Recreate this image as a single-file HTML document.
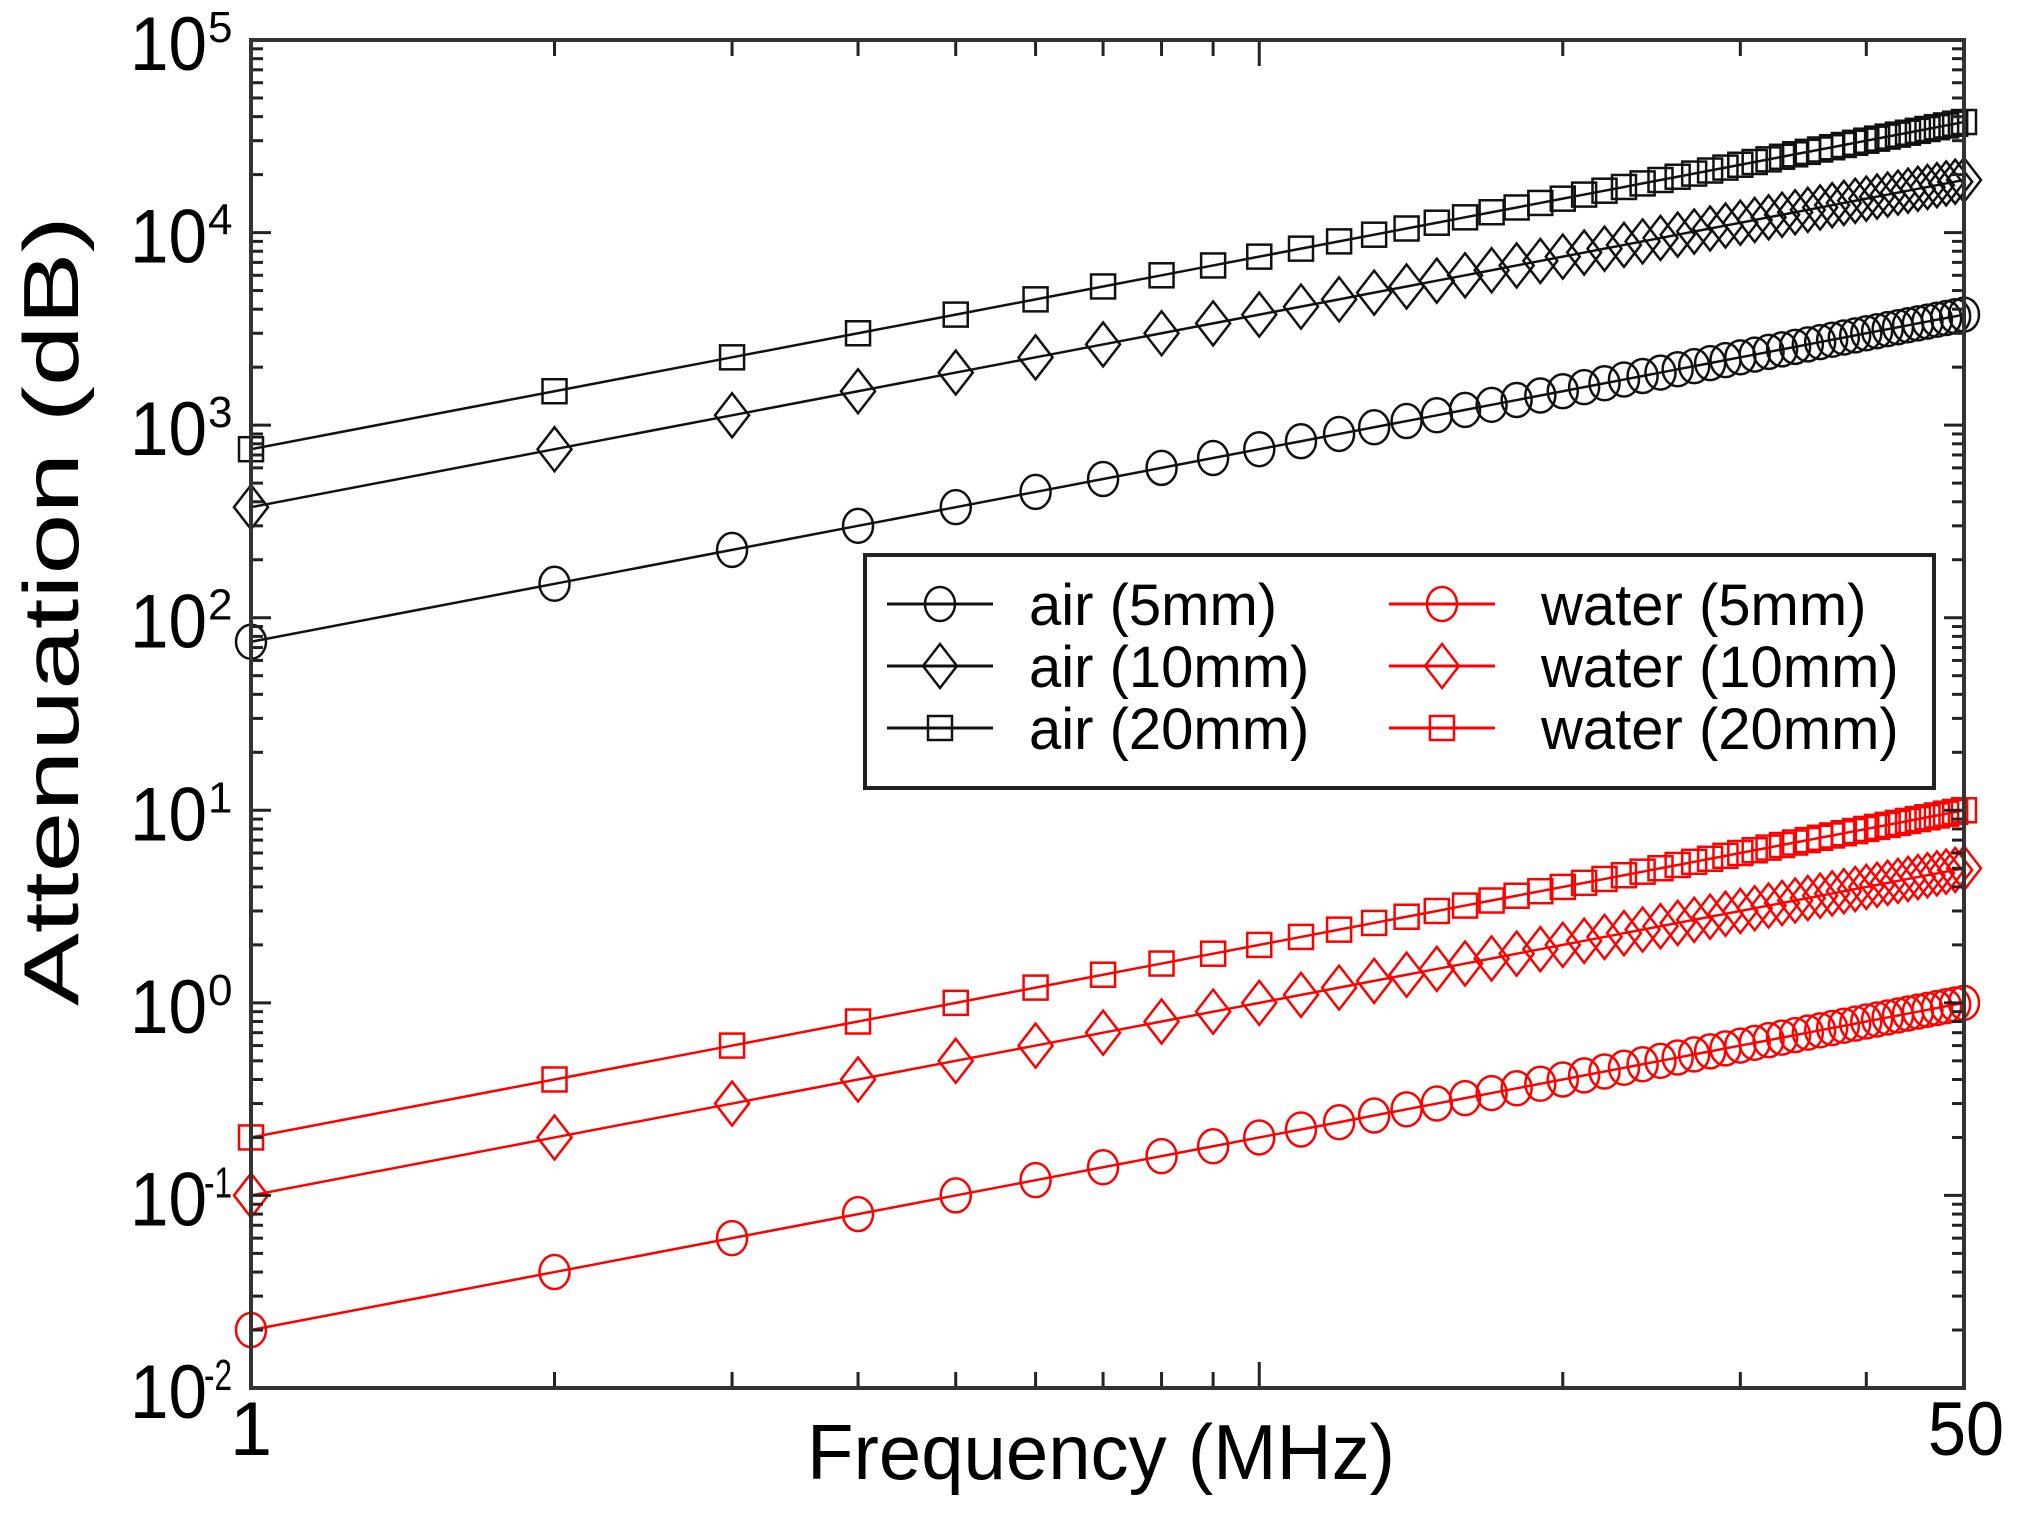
<!DOCTYPE html>
<html><head><meta charset="utf-8"><style>
html,body{margin:0;padding:0;background:#fff;}
svg{display:block;font-family:"Liberation Sans",sans-serif;}
</style></head><body>
<svg id="s" width="2017" height="1516" viewBox="0 0 2017 1516" xmlns="http://www.w3.org/2000/svg">
<rect width="2017" height="1516" fill="#fff"/>
<g id="data"></g>
<g id="ticks" stroke="#222" stroke-width="3"></g>
<rect x="251" y="40" width="1713" height="1348" fill="none" stroke="#333" stroke-width="4"/>
<g id="ylab" font-size="76" fill="#000"></g>
<g font-size="76" fill="#000">
<text x="251" y="1455" text-anchor="middle">1</text>
<text x="1966" y="1455" text-anchor="middle" textLength="76" lengthAdjust="spacingAndGlyphs">50</text>
<text x="1101" y="1479" text-anchor="middle" font-size="78" textLength="588" lengthAdjust="spacingAndGlyphs">Frequency (MHz)</text>
<text transform="translate(78,611) rotate(-90)" text-anchor="middle" font-size="78" textLength="790" lengthAdjust="spacingAndGlyphs">Attenuation (dB)</text>
</g>
<rect x="865" y="555" width="1069" height="233" fill="#fff" stroke="#222" stroke-width="4"/>
<g id="leg"></g>
</svg>
<script>
const NS="http://www.w3.org/2000/svg";
const L=251,R=1964,T=40,B=1388;
const X=f=>L+Math.log10(f)/Math.log10(50)*(R-L);
const Y=v=>T+(5-Math.log10(v))*(B-T)/7;
function el(p,tag,a){const e=document.createElementNS(NS,tag);for(const k in a)e.setAttribute(k,a[k]);p.appendChild(e);return e;}
const tk=document.getElementById('ticks');
for(let d=-2;d<5;d++){for(let m=1;m<10;m++){const y=Y(m*Math.pow(10,d));const len=m==1?20:12;
el(tk,'line',{x1:L,y1:y,x2:L+len,y2:y});el(tk,'line',{x1:R,y1:y,x2:R-len,y2:y});}}
for(let f=2;f<50;f++){if(f>10&&f%10)continue;const x=X(f);const len=f==10?26:16;
el(tk,'line',{x1:x,y1:B,x2:x,y2:B-len});el(tk,'line',{x1:x,y1:T,x2:x,y2:T+len});}
const yl=document.getElementById('ylab');
for(let d=-2;d<=5;d++){const y=Y(Math.pow(10,d));
 const t=el(yl,'text',{x:130,y:y+30,textLength:77,lengthAdjust:'spacingAndGlyphs'});t.textContent='10';
 const e=el(yl,'text',{x:208,y:y+2,'font-size':44});e.textContent=String(d);
 if(d<0){e.setAttribute('textLength','28');e.setAttribute('lengthAdjust','spacingAndGlyphs');e.setAttribute('x','204');}}
function marker(g,type,x,y,c){
 const a={fill:'none',stroke:c,'stroke-width':2.5};
 if(type=='o')el(g,'ellipse',Object.assign({cx:x,cy:y,rx:15,ry:17},a));
 else if(type=='d')el(g,'polygon',Object.assign({points:`${x},${y-22} ${x+17},${y} ${x},${y+22} ${x-17},${y}`},a));
 else el(g,'rect',Object.assign({x:x-12,y:y-12,width:24,height:24},a));
}
const series=[[75,'o','#111'],[375,'d','#111'],[750,'s','#111'],[0.02,'o','#f00'],[0.1,'d','#f00'],[0.2,'s','#f00']];
const dg=document.getElementById('data');
for(const [k,t,c] of series){
 let pts=[];for(let f=1;f<=50;f++)pts.push(X(f)+','+Y(k*f));
 el(dg,'polyline',{points:pts.join(' '),fill:'none',stroke:c,'stroke-width':2.5});
 for(let f=1;f<=50;f++)marker(dg,t,X(f),Y(k*f),c);
}
const lg=document.getElementById('leg');
const names=['air (5mm)','air (10mm)','air (20mm)','water (5mm)','water (10mm)','water (20mm)'];
const rows=[604,666,728];
for(let i=0;i<6;i++){const col=i<3?0:1;const y=rows[i%3];const x0=col?1389:887;const c=series[i][2];
 el(lg,'line',{x1:x0,y1:y,x2:x0+106,y2:y,stroke:c,'stroke-width':3});
 marker(lg,series[i][1],x0+53,y,c);
 const t=el(lg,'text',{x:col?1541:1029,y:y+21,'font-size':58,fill:'#000'});t.textContent=names[i];}
</script>
</body></html>
